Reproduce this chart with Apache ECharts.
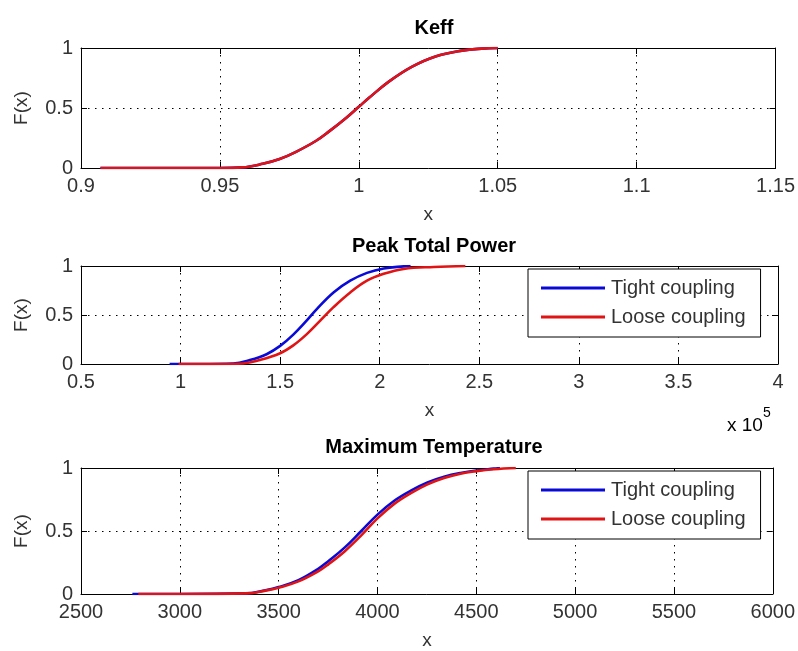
<!DOCTYPE html>
<html>
<head>
<meta charset="utf-8">
<script src="https://cdn.jsdelivr.net/npm/echarts@6/dist/echarts.min.js"></script>
<style>html,body{margin:0;padding:0;background:#fff;}#c{width:798px;height:651px;}</style>
</head>
<body>
<div id="c"></div>
<script>
// ---- data ----
const titles = ['Keff', 'Peak Total Power', 'Maximum Temperature'];
const seriesNames = ['Tight coupling', 'Loose coupling'];

const keffX = [0.907, 0.95, 0.958, 0.9654, 0.9715, 0.9774, 0.9845, 0.9893, 0.9953, 1.0, 1.0037, 1.0108, 1.0192, 1.0276, 1.0371, 1.0443, 1.05];
const keffF = [0, 0, 0.005, 0.035, 0.075, 0.135, 0.225, 0.305, 0.415, 0.51, 0.585, 0.72, 0.845, 0.93, 0.978, 0.995, 1.0];

// Peak total power, in units of 10^5
const powTightX = [0.945, 1.1, 1.264, 1.348, 1.432, 1.5, 1.566, 1.634, 1.684, 1.768, 1.852, 1.936, 2.02, 2.12, 2.155];
const powTightF = [0, 0, 0.005, 0.04, 0.10, 0.185, 0.30, 0.445, 0.56, 0.73, 0.85, 0.93, 0.975, 0.996, 1.0];
const powLooseX = [0.99, 1.2, 1.314, 1.398, 1.5, 1.566, 1.634, 1.70, 1.768, 1.852, 1.936, 2.02, 2.12, 2.272, 2.43];
const powLooseF = [0, 0, 0.005, 0.04, 0.11, 0.19, 0.305, 0.44, 0.58, 0.73, 0.85, 0.92, 0.97, 0.99, 1.0];

const tempTightX = [2760, 3000, 3330, 3433, 3500, 3600, 3700, 3751, 3835, 3918, 4000, 4085, 4169, 4253, 4337, 4420, 4500, 4588, 4620];
const tempTightF = [0, 0, 0.005, 0.03, 0.055, 0.11, 0.20, 0.26, 0.37, 0.50, 0.63, 0.74, 0.82, 0.885, 0.93, 0.96, 0.98, 0.995, 1.0];
const tempLooseX = [2790, 3000, 3340, 3433, 3500, 3600, 3700, 3751, 3835, 3918, 4000, 4085, 4169, 4253, 4337, 4420, 4500, 4588, 4700];
const tempLooseF = [0, 0, 0.005, 0.027, 0.05, 0.10, 0.18, 0.235, 0.34, 0.465, 0.60, 0.715, 0.80, 0.87, 0.92, 0.955, 0.975, 0.99, 1.0];

const xRanges = [[0.9, 1.15, 0.05], [0.5, 4, 0.5], [2500, 6000, 500]];
const yTicks = [0, 0.5, 1];

// ---- chart ----
const FONT = '"Liberation Sans", Arial, sans-serif';
const BLUE = '#0a0ad8';
const RED = '#e01414';
const grids = [
  {left: 81, top: 48, width: 697, height: 120},
  {left: 81, top: 266, width: 697, height: 98},
  {left: 81, top: 468, width: 697, height: 128}
];
const zip = (xs, ys) => xs.map((x, i) => [x, ys[i]]);

const xAxes = [], yAxes = [];
grids.forEach((g, i) => {
  const [mn, mx, iv] = xRanges[i];
  xAxes.push({
    type: 'value', gridIndex: i, min: mn, max: mx, interval: iv, position: 'bottom',
    name: 'x', nameLocation: 'middle', nameGap: 37,
    nameTextStyle: {fontFamily: FONT, fontSize: 19, color: '#333'},
    axisLine: {show: true, onZero: false, lineStyle: {color: '#000', width: 1}},
    axisTick: {show: true, inside: true, length: 6, lineStyle: {color: '#000'}},
    axisLabel: {fontFamily: FONT, fontSize: 20, color: '#333', margin: 8,
      formatter: v => String(+v.toFixed(4))},
    splitLine: {show: true, lineStyle: {color: '#000', type: [1.5, 5.5], width: 1}}
  });
  xAxes.push({
    type: 'value', gridIndex: i, min: mn, max: mx, interval: iv, position: 'top',
    axisLine: {show: true, onZero: false, lineStyle: {color: '#000', width: 1}},
    axisTick: {show: true, inside: true, length: 6, lineStyle: {color: '#000'}},
    axisLabel: {show: false}, splitLine: {show: false}
  });
  yAxes.push({
    type: 'value', gridIndex: i, min: yTicks[0], max: yTicks[2], interval: 0.5, position: 'left',
    name: 'F(x)', nameLocation: 'middle', nameGap: 50, nameRotate: 90,
    nameTextStyle: {fontFamily: FONT, fontSize: 19, color: '#333'},
    axisLine: {show: true, onZero: false, lineStyle: {color: '#000', width: 1}},
    axisTick: {show: true, inside: true, length: 6, lineStyle: {color: '#000'}},
    axisLabel: {fontFamily: FONT, fontSize: 20, color: '#333', margin: 8},
    splitLine: {show: true, lineStyle: {color: '#000', type: [1.5, 5.5], width: 1}}
  });
  yAxes.push({
    type: 'value', gridIndex: i, min: yTicks[0], max: yTicks[2], interval: 0.5, position: 'right',
    axisLine: {show: true, onZero: false, lineStyle: {color: '#000', width: 1}},
    axisTick: {show: true, inside: true, length: 6, lineStyle: {color: '#000'}},
    axisLabel: {show: false}, splitLine: {show: false}
  });
});

function line(name, data, gi, color) {
  return {
    type: 'line', name: name, data: data, xAxisIndex: gi * 2, yAxisIndex: gi * 2,
    showSymbol: false, smooth: 0.4, color: color,
    lineStyle: {width: 2.6, color: color}, animation: false, z: color === RED ? 3 : 2
  };
}

const series = [
  line(seriesNames[0], zip(keffX, keffF), 0, BLUE),
  line(seriesNames[1], zip(keffX, keffF), 0, RED),
  line(seriesNames[0], zip(powTightX, powTightF), 1, BLUE),
  line(seriesNames[1], zip(powLooseX, powLooseF), 1, RED),
  line(seriesNames[0], zip(tempTightX, tempTightF), 2, BLUE),
  line(seriesNames[1], zip(tempLooseX, tempLooseF), 2, RED)
];

const titleTops = [13, 231, 432];
const legendTops = [269, 471];

function legend(top) {
  return {
    data: seriesNames, orient: 'vertical', left: 528, top: top,
    backgroundColor: '#fff', borderColor: '#000', borderWidth: 1,
    padding: [9, 15, 10, 13], itemGap: 9, itemWidth: 64, itemHeight: 3,
    icon: 'rect', selectedMode: false,
    textStyle: {fontFamily: FONT, fontSize: 20, color: '#333', lineHeight: 20, padding: [0, 0, 0, 1]}
  };
}

const chart = echarts.init(document.getElementById('c'), null, {renderer: 'canvas'});
chart.setOption({
  backgroundColor: '#fff',
  animation: false,
  title: titles.map((t, i) => ({
    text: t, left: 429, top: titleTops[i], textAlign: 'center',
    textStyle: {fontFamily: FONT, fontSize: 20, fontWeight: 'bold', color: '#000'}
  })),
  grid: grids,
  xAxis: xAxes,
  yAxis: yAxes,
  legend: legendTops.map(legend),
  series: series,
  graphic: [{
    type: 'text', left: 727, top: 406,
    style: {
      text: '{a|x 10}{b|5}',
      rich: {
        a: {fontFamily: FONT, fontSize: 19, color: '#333', verticalAlign: 'bottom', padding: [10, 0, 0, 0]},
        b: {fontFamily: FONT, fontSize: 14, color: '#333', verticalAlign: 'top'}
      }
    }
  }]
});
</script>
</body>
</html>
